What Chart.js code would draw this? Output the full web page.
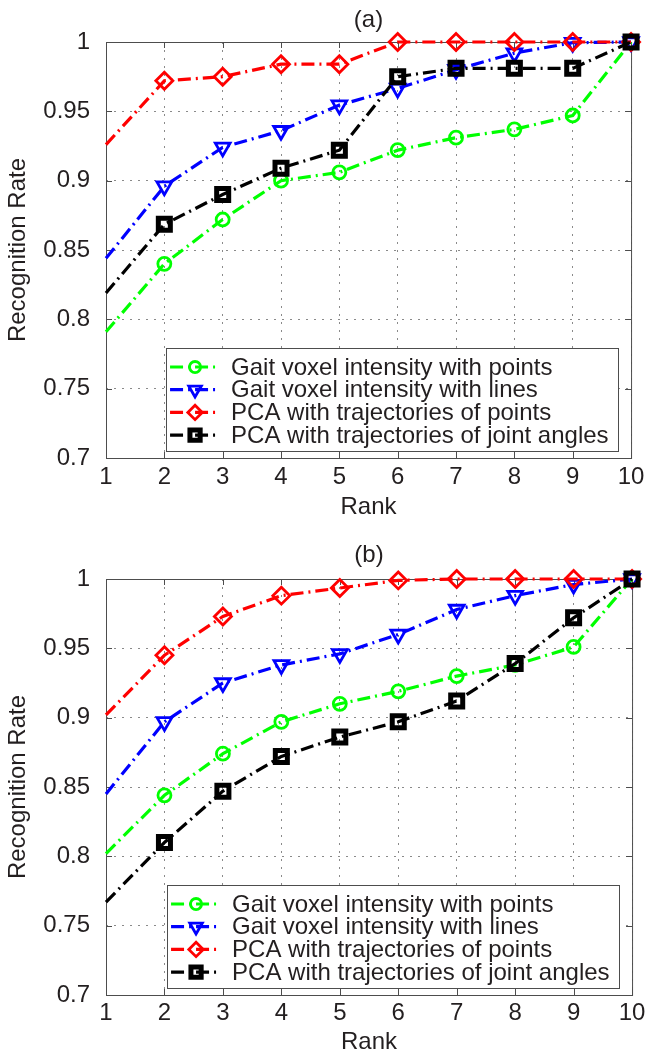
<!DOCTYPE html>
<html>
<head>
<meta charset="utf-8">
<title>Recognition rate vs rank</title>
<script src="https://cdn.jsdelivr.net/npm/chart.js@4.4.1/dist/chart.umd.min.js"></script>
<style>
  body { margin: 0; background: #fff; }
  canvas { display: block; }
</style>
</head>
<body>
<canvas id="chartA" width="649" height="528"></canvas>
<canvas id="chartB" width="649" height="529"></canvas>
<script>
const ranks = ['1', '2', '3', '4', '5', '6', '7', '8', '9', '10'];
const yTicks = [0.7, 0.75, 0.8, 0.85, 0.9, 0.95, 1];
const seriesNames = [
  'Gait voxel intensity with points',
  'Gait voxel intensity with lines',
  'PCA with trajectories of points',
  'PCA with trajectories of joint angles'
];

// panel (a)
const voxelPointsA = [0.791, 0.840, 0.872, 0.900, 0.906, 0.922, 0.931, 0.937, 0.947, 1.0];
const voxelLinesA  = [0.844, 0.896, 0.924, 0.936, 0.9545, 0.9665, 0.980, 0.992, 0.9995, 1.0];
const pcaPointsA   = [0.926, 0.972, 0.975, 0.984, 0.984, 1.0, 1.0, 1.0, 1.0, 1.0];
const pcaAnglesA   = [0.819, 0.8685, 0.890, 0.909, 0.922, 0.975, 0.981, 0.981, 0.981, 1.0];

// panel (b)
const voxelPointsB = [0.802, 0.844, 0.874, 0.897, 0.910, 0.919, 0.930, 0.938, 0.951, 1.0];
const voxelLinesB  = [0.845, 0.897, 0.925, 0.938, 0.946, 0.960, 0.978, 0.988, 0.996, 1.0];
const pcaPointsB   = [0.902, 0.945, 0.973, 0.988, 0.9935, 0.999, 1.0, 1.0, 1.0, 1.0];
const pcaAnglesB   = [0.767, 0.810, 0.847, 0.872, 0.886, 0.897, 0.912, 0.939, 0.972, 1.0];

const FONT = '"Liberation Sans", Arial, Helvetica, sans-serif';
const FSIZE = 24;
const TEXT = '#231f20';
const AXIS = '#4d4d4d';

// marker / colour look of each series (MATLAB style)
const looks = [
  { color: '#00ff00', marker: 'circle',   rot: 0,   r: 6.5, bw: 2.8, order: 3 },
  { color: '#0000ff', marker: 'triangle', rot: 180, r: 8.5, bw: 2.8, order: 2 },
  { color: '#ff0000', marker: 'rectRot',  rot: 0,   r: 8.5, bw: 2.8, order: 1 },
  { color: '#000000', marker: 'rect',     rot: 0,   r: 8.5, bw: 5,   order: 0 }
];

function makeSeries(values, i) {
  const l = looks[i];
  return {
    label: seriesNames[i],
    data: values,
    borderColor: l.color,
    borderWidth: 3.2,
    borderDash: [13, 5, 2, 5],
    borderCapStyle: 'butt',
    pointStyle: l.marker,
    pointRotation: l.rot,
    // the first rank carries no marker in the original figure
    pointRadius: c => (c.dataIndex === 0 ? 0 : l.r),
    pointHoverRadius: c => (c.dataIndex === 0 ? 0 : l.r),
    legendRadius: l.r,
    pointBorderWidth: l.bw,
    pointBorderColor: l.color,
    pointBackgroundColor: 'rgba(255,255,255,0)',
    tension: 0,
    fill: false,
    clip: false,
    order: l.order
  };
}

// box + inner tick marks, drawn under the lines
const frame = {
  id: 'frame',
  beforeDatasetsDraw(chart) {
    const { ctx, chartArea: a, scales: { x, y } } = chart;
    ctx.save();
    ctx.strokeStyle = AXIS;
    ctx.lineWidth = 1;
    ctx.strokeRect(a.left + 0.5, a.top + 0.5, a.right - a.left, a.bottom - a.top);
    ctx.beginPath();
    x.ticks.forEach((t, i) => {
      const px = Math.round(x.getPixelForTick(i)) + 0.5;
      ctx.moveTo(px, a.bottom); ctx.lineTo(px, a.bottom - 6);
      ctx.moveTo(px, a.top); ctx.lineTo(px, a.top + 6);
    });
    y.ticks.forEach(t => {
      const py = Math.round(y.getPixelForValue(t.value)) + 0.5;
      ctx.moveTo(a.left, py); ctx.lineTo(a.left + 6, py);
      ctx.moveTo(a.right, py); ctx.lineTo(a.right - 6, py);
    });
    ctx.stroke();
    ctx.restore();
  }
};

// MATLAB-like legend box in the lower right of the axes
const boxLegend = {
  id: 'boxLegend',
  afterDatasetsDraw(chart) {
    const { ctx, chartArea: a } = chart;
    const w = 452, h = 103;
    const left = a.right - 13 - w, top = a.bottom - 7 - h;
    ctx.save();
    ctx.fillStyle = '#fff';
    ctx.fillRect(left, top, w, h);
    ctx.strokeStyle = AXIS;
    ctx.lineWidth = 1;
    ctx.strokeRect(Math.round(left) + 0.5, Math.round(top) + 0.5, w, h);
    chart.data.datasets.forEach((ds, i) => {
      const cy = top + 19 + i * 22.7;
      ctx.strokeStyle = ds.borderColor;
      ctx.lineWidth = ds.borderWidth;
      ctx.setLineDash(ds.borderDash);
      ctx.beginPath();
      ctx.moveTo(left + 4, cy);
      ctx.lineTo(left + 54, cy);
      ctx.stroke();
      ctx.setLineDash([]);
      ctx.fillStyle = ds.pointBackgroundColor;
      ctx.strokeStyle = ds.pointBorderColor;
      ctx.lineWidth = ds.pointBorderWidth;
      Chart.helpers.drawPoint(ctx, {
        pointStyle: ds.pointStyle,
        rotation: ds.pointRotation,
        radius: ds.legendRadius * 0.85,
        borderWidth: ds.pointBorderWidth
      }, left + 29, cy);
      ctx.fillStyle = TEXT;
      ctx.font = FSIZE + 'px ' + FONT;
      ctx.textBaseline = 'middle';
      ctx.textAlign = 'left';
      ctx.fillText(ds.label, left + 65, cy + 1);
    });
    ctx.restore();
  }
};

function drawPanel(id, titleText, sets, titlePad, xHeight, tickPad, rankPad) {
  const ctx = document.getElementById(id).getContext('2d');
  return new Chart(ctx, {
    type: 'line',
    data: {
      labels: ranks,
      datasets: sets.map((v, i) => makeSeries(v, i))
    },
    options: {
      responsive: false,
      animation: false,
      events: [],
      layout: { padding: { left: 0, right: 15, top: 0, bottom: 0 } },
      plugins: {
        legend: { display: false },
        tooltip: { enabled: false },
        title: {
          display: true,
          text: titleText,
          fullSize: false,
          color: TEXT,
          font: { family: FONT, size: FSIZE, weight: 'normal' },
          padding: titlePad
        }
      },
      scales: {
        x: {
          offset: false,
          grid: { color: '#8a8a8a', lineWidth: 1, drawTicks: false },
          border: { display: false, dash: [2, 6] },
          ticks: {
            color: TEXT,
            font: { family: FONT, size: FSIZE },
            padding: tickPad,
            autoSkip: false,
            maxRotation: 0
          },
          title: {
            display: true,
            text: 'Rank',
            color: TEXT,
            font: { family: FONT, size: FSIZE },
            padding: { top: 0, bottom: rankPad }
          },
          afterFit: s => { s.height = xHeight; }
        },
        y: {
          min: 0.7,
          max: 1,
          grid: { color: '#8a8a8a', lineWidth: 1, drawTicks: false },
          border: { display: false, dash: [2, 6] },
          afterBuildTicks: s => { s.ticks = yTicks.map(v => ({ value: v })); },
          ticks: {
            color: TEXT,
            font: { family: FONT, size: FSIZE },
            padding: 16,
            callback: v => String(+Number(v).toFixed(2))
          },
          title: {
            display: true,
            text: 'Recognition Rate',
            color: TEXT,
            font: { family: FONT, size: FSIZE },
            padding: { top: 3.6, bottom: 0 }
          },
          afterFit: s => { s.width = 106; }
        }
      }
    },
    plugins: [frame, boxLegend]
  });
}

drawPanel('chartA', '(a)', [voxelPointsA, voxelLinesA, pcaPointsA, pcaAnglesA],
  { top: 5.6, bottom: 7.6 }, 70, 4.6, 6.6);
drawPanel('chartB', '(b)', [voxelPointsB, voxelLinesB, pcaPointsB, pcaAnglesB],
  { top: 12.6, bottom: 9.6 }, 62, 3.6, 0);
</script>
</body>
</html>
